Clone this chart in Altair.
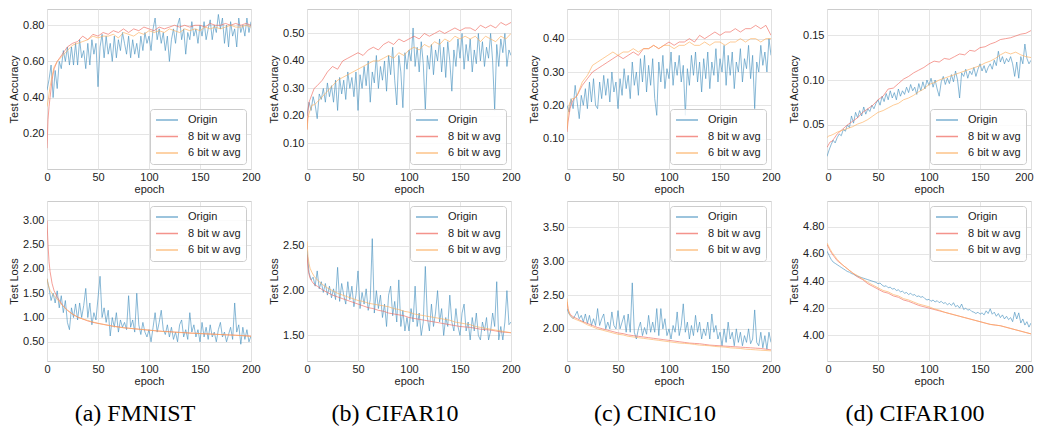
import altair as alt
import pandas as pd

SERIES = ["Origin", "8 bit w avg", "6 bit w avg"]
COLORS = ["#4a93c0", "#f06a60", "#fdae5c"]

# epochs for the noisy "Origin" curves and for the smoother averaged curves
E_ORIG = list(range(0, 201, 2))
E_AVG = [0, 1, 2, 3, 5, 7, 10] + list(range(15, 201, 5))

X_TICKS = [0, 50, 100, 150, 200]

# ---------------- (a) FMNIST accuracy ----------------
fm_acc_orig = [
    .44, .50, .58, .40, .55, .45, .60, .56, .66, .60,
    .68, .58, .68, .58, .70, .58, .72, .62, .66, .56,
    .70, .58, .72, .64, .70, .46, .68, .75, .62, .74,
    .64, .70, .60, .74, .62, .72, .66, .76, .70, .64,
    .74, .62, .72, .64, .70, .62, .74, .66, .76, .70,
    .74, .66, .78, .84, .72, .78, .70, .76, .66, .74,
    .60, .72, .78, .70, .80, .84, .72, .78, .64, .76,
    .72, .82, .74, .78, .70, .80, .74, .82, .72, .78,
    .83, .72, .80, .76, .86, .78, .84, .70, .80, .68,
    .82, .74, .78, .68, .84, .76, .80, .74, .84, .76, .82]
fm_acc_8 = [.12, .28, .35, .40, .50, .56, .60, .64, .68, .70, .71, .74, .72, .75, .74,
            .76, .75, .77, .76, .78, .76, .78, .77, .79, .78, .77, .79, .78, .79, .80,
            .79, .80, .79, .80, .80, .79, .81, .80, .80, .81, .80, .81, .80, .81, .80]
fm_acc_6 = [.35, .38, .42, .46, .52, .57, .60, .63, .66, .69, .70, .71, .72, .74, .73,
            .74, .74, .75, .73, .76, .75, .74, .76, .75, .77, .76, .77, .76, .78, .77,
            .76, .78, .77, .78, .77, .79, .78, .79, .78, .79, .80, .79, .79, .80, .79]

# ---------------- (b) CIFAR10 accuracy ----------------
c10_acc_orig = [
    .20, .25, .22, .27, .24, .19, .28, .26, .30, .25,
    .32, .27, .31, .25, .33, .22, .34, .28, .33, .26,
    .36, .30, .34, .27, .36, .22, .35, .30, .38, .31,
    .40, .25, .36, .32, .42, .30, .38, .33, .40, .29,
    .42, .35, .45, .33, .24, .42, .36, .23, .43, .37,
    .44, .40, .52, .38, .45, .36, .47, .39, .22, .42,
    .37, .46, .35, .44, .40, .48, .36, .45, .34, .47,
    .40, .29, .44, .38, .48, .41, .50, .37, .46, .40,
    .48, .36, .44, .39, .50, .40, .47, .38, .45, .41,
    .50, .40, .22, .46, .38, .48, .43, .50, .38, .44, .42]
c10_acc_8 = [.15, .22, .25, .26, .28, .30, .31, .33, .36, .38, .37, .40, .41, .42, .43,
             .42, .44, .45, .44, .46, .47, .46, .48, .47, .48, .49, .48, .50, .49, .50,
             .51, .50, .51, .52, .51, .52, .52, .51, .53, .52, .53, .52, .54, .53, .54]
c10_acc_6 = [.15, .19, .21, .22, .24, .24, .25, .27, .29, .31, .33, .34, .35, .36, .37,
             .38, .39, .40, .40, .41, .42, .41, .43, .42, .44, .45, .44, .46, .45, .47,
             .46, .48, .47, .49, .48, .49, .48, .49, .47, .49, .48, .47, .49, .48, .50]

# ---------------- (c) CINIC10 accuracy ----------------
cn_acc_orig = [
    .20, .18, .22, .19, .26, .21, .16, .23, .20, .25,
    .19, .27, .21, .28, .20, .19, .27, .22, .29, .23,
    .28, .21, .30, .24, .27, .19, .28, .23, .31, .25,
    .29, .22, .33, .26, .30, .23, .34, .27, .35, .24,
    .32, .26, .34, .22, .17, .33, .27, .35, .25, .31,
    .28, .36, .26, .33, .29, .35, .27, .32, .17, .31,
    .26, .35, .29, .36, .27, .33, .24, .34, .28, .36,
    .25, .33, .29, .37, .27, .34, .30, .38, .26, .35,
    .29, .36, .25, .33, .30, .37, .27, .34, .31, .38,
    .28, .35, .19, .33, .30, .38, .32, .36, .30, .40, .35]
cn_acc_8 = [.12, .15, .17, .19, .21, .22, .23, .26, .28, .30, .31, .32, .33, .34, .35,
            .34, .35, .36, .35, .37, .37, .38, .37, .38, .39, .38, .39, .39, .40, .39,
            .41, .40, .41, .42, .41, .42, .42, .43, .42, .43, .43, .44, .43, .44, .41]
cn_acc_6 = [.13, .17, .20, .21, .22, .22, .23, .27, .29, .32, .33, .34, .35, .36, .35,
            .36, .36, .37, .36, .37, .37, .38, .37, .38, .38, .37, .38, .38, .39, .38,
            .38, .39, .38, .39, .39, .38, .39, .39, .40, .39, .40, .40, .39, .40, .40]

# ---------------- (d) CIFAR100 accuracy ----------------
c100_acc_orig = [
    .015, .022, .028, .033, .030, .036, .040, .038, .045, .043,
    .050, .047, .060, .052, .064, .058, .066, .060, .070, .062,
    .068, .065, .072, .068, .074, .078, .072, .082, .076, .085,
    .078, .088, .080, .086, .078, .090, .082, .088, .084, .092,
    .086, .095, .088, .092, .084, .096, .088, .098, .090, .100,
    .094, .102, .092, .100, .090, .082, .098, .104, .095, .102,
    .096, .106, .098, .110, .100, .080, .108, .104, .112, .102,
    .110, .106, .114, .104, .112, .118, .110, .116, .108, .114,
    .118, .112, .122, .116, .132, .120, .126, .118, .124, .120,
    .126, .118, .104, .120, .102, .126, .118, .140, .124, .118, .122]
c100_acc_8 = [.025, .027, .029, .031, .032, .035, .040, .045, .050, .054, .058, .064, .068,
              .072, .078, .082, .090, .091, .096, .101, .104, .108, .111, .114, .118, .121,
              .120, .124, .123, .126, .129, .128, .133, .132, .136, .137, .140, .142, .145,
              .146, .147, .149, .151, .152, .155]
c100_acc_6 = [.036, .037, .038, .038, .039, .040, .042, .044, .046, .048, .051, .053, .056,
              .060, .064, .066, .069, .072, .074, .078, .080, .083, .087, .090, .095, .097,
              .100, .102, .104, .106, .108, .110, .112, .114, .116, .119, .121, .124, .128,
              .131, .129, .131, .128, .126, .125]

# ---------------- (a) FMNIST loss ----------------
fm_loss_orig = [
    1.80, 1.60, 1.35, 1.50, 1.30, 1.55, 1.20, 1.45, 1.10, 1.35,
    0.90, 0.75, 1.20, 1.00, 1.28, 0.95, 1.30, 1.00, 1.25, 1.60,
    1.00, 1.30, 0.85, 1.10, 0.95, 1.40, 1.85, 1.00, 1.20, 0.90,
    1.15, 0.62, 1.00, 0.80, 1.10, 0.70, 0.95, 0.80, 0.90, 0.75,
    1.45, 0.80, 0.95, 0.70, 1.50, 0.85, 0.65, 0.90, 0.70, 0.60,
    0.75, 0.50, 0.80, 1.10, 0.70, 0.90, 1.15, 0.75, 0.65, 0.85,
    0.60, 0.80, 0.55, 0.70, 0.50, 0.85, 0.95, 0.60, 0.75, 0.55,
    1.10, 0.70, 0.85, 0.60, 0.75, 0.50, 0.90, 0.60, 0.80, 0.55,
    0.85, 0.60, 0.70, 0.50, 0.75, 0.90, 0.60, 0.70, 0.50, 0.65,
    0.80, 0.55, 1.30, 0.70, 0.85, 0.45, 0.80, 0.55, 0.75, 0.50, 0.62]
fm_loss_8 = [3.00, 2.50, 2.15, 1.95, 1.70, 1.55, 1.42, 1.26, 1.15, 1.07, 1.01, 0.97, 0.93,
             0.90, 0.88, 0.86, 0.84, 0.82, 0.81, 0.79, 0.78, 0.77, 0.76, 0.75, 0.74, 0.73,
             0.72, 0.715, 0.71, 0.70, 0.695, 0.69, 0.68, 0.675, 0.67, 0.665, 0.66, 0.655,
             0.65, 0.645, 0.64, 0.635, 0.63, 0.625, 0.62]
fm_loss_6 = [1.80, 1.70, 1.62, 1.56, 1.50, 1.45, 1.38, 1.25, 1.15, 1.07, 1.01, 0.97, 0.94,
             0.91, 0.88, 0.86, 0.84, 0.82, 0.80, 0.79, 0.78, 0.77, 0.76, 0.75, 0.74, 0.73,
             0.72, 0.71, 0.705, 0.70, 0.69, 0.685, 0.68, 0.675, 0.67, 0.665, 0.66, 0.655,
             0.65, 0.645, 0.64, 0.635, 0.63, 0.62, 0.61]

# ---------------- (b) CIFAR10 loss ----------------
c10_loss_orig = [
    2.45, 2.20, 2.12, 2.15, 2.05, 2.22, 2.02, 2.10, 1.98, 2.08,
    1.95, 2.05, 1.92, 2.02, 1.90, 2.26, 1.88, 2.08, 1.95, 1.85,
    2.10, 1.90, 2.05, 1.82, 1.95, 2.22, 1.80, 1.98, 1.85, 2.02,
    1.78, 1.90, 2.58, 1.75, 2.00, 1.80, 1.95, 1.70, 1.85, 1.60,
    1.95, 2.05, 1.72, 1.88, 1.65, 2.12, 1.60, 1.78, 1.55, 1.70,
    1.55, 1.80, 1.65, 2.05, 1.60, 1.75, 1.50, 1.65, 2.27, 1.70,
    1.55, 1.85, 1.60, 1.75, 2.00, 1.65, 1.80, 1.50, 1.70, 1.60,
    1.95, 1.65, 1.55, 1.80, 1.60, 1.50, 1.75, 1.85, 1.55, 1.65,
    1.45, 1.70, 1.55, 1.75, 1.50, 1.45, 1.65, 1.55, 1.70, 1.45,
    1.55, 1.75, 1.60, 2.10, 1.45, 1.60, 1.45, 1.65, 2.00, 1.62, 1.65]
c10_loss_8 = [2.40, 2.25, 2.18, 2.14, 2.10, 2.07, 2.05, 2.01, 1.98, 1.95, 1.93, 1.91, 1.89,
              1.87, 1.85, 1.83, 1.81, 1.80, 1.78, 1.77, 1.75, 1.74, 1.73, 1.72, 1.70, 1.69,
              1.68, 1.67, 1.66, 1.65, 1.64, 1.63, 1.62, 1.61, 1.60, 1.595, 1.59, 1.58, 1.57,
              1.565, 1.56, 1.55, 1.54, 1.535, 1.53]
c10_loss_6 = [2.55, 2.38, 2.30, 2.25, 2.20, 2.16, 2.12, 2.07, 2.03, 2.00, 1.97, 1.95, 1.93,
              1.91, 1.89, 1.88, 1.86, 1.85, 1.84, 1.83, 1.82, 1.80, 1.79, 1.77, 1.76, 1.74,
              1.73, 1.72, 1.71, 1.70, 1.69, 1.68, 1.67, 1.65, 1.64, 1.63, 1.62, 1.60, 1.59,
              1.58, 1.57, 1.56, 1.55, 1.54, 1.53]

# ---------------- (c) CINIC10 loss ----------------
cn_loss_orig = [
    2.30, 2.22, 2.18, 2.15, 2.20, 2.26, 2.15, 2.20, 2.10, 2.22,
    2.08, 2.20, 2.05, 2.15, 2.05, 2.30, 2.05, 2.15, 2.22, 2.00,
    2.10, 2.00, 2.25, 2.05, 2.00, 2.27, 2.00, 2.10, 2.20, 1.95,
    2.22, 1.95, 2.68, 1.95, 1.85, 2.00, 2.10, 1.90, 2.02, 1.92,
    2.20, 1.95, 2.10, 1.95, 2.30, 1.90, 2.30, 2.00, 2.15, 1.90,
    2.00, 1.85, 2.05, 1.95, 2.25, 1.90, 2.05, 2.37, 1.95, 2.10,
    1.85, 2.05, 1.90, 2.20, 1.95, 2.10, 1.85, 2.00, 1.90, 2.10,
    1.85, 2.22, 1.95, 2.05, 1.85, 1.95, 1.75, 2.00, 1.80, 2.10,
    1.85, 1.95, 1.75, 2.00, 1.80, 1.95, 1.75, 1.90, 1.80, 2.00,
    1.78, 1.85, 2.28, 1.80, 1.75, 1.95, 1.72, 1.90, 1.70, 1.95, 1.80]
cn_loss_8 = [2.40, 2.30, 2.25, 2.22, 2.19, 2.17, 2.15, 2.11, 2.08, 2.05, 2.02, 2.00, 1.98,
             1.96, 1.94, 1.93, 1.91, 1.90, 1.89, 1.88, 1.87, 1.86, 1.85, 1.84, 1.83, 1.82,
             1.81, 1.80, 1.79, 1.785, 1.78, 1.77, 1.76, 1.755, 1.75, 1.745, 1.74, 1.735,
             1.73, 1.725, 1.72, 1.715, 1.71, 1.70, 1.69]
cn_loss_6 = [2.45, 2.30, 2.24, 2.20, 2.17, 2.15, 2.13, 2.10, 2.06, 2.03, 2.00, 1.98, 1.96,
             1.94, 1.92, 1.91, 1.89, 1.88, 1.87, 1.86, 1.85, 1.84, 1.83, 1.82, 1.81, 1.80,
             1.79, 1.785, 1.78, 1.77, 1.76, 1.755, 1.75, 1.74, 1.735, 1.73, 1.72, 1.715,
             1.71, 1.70, 1.695, 1.69, 1.685, 1.68, 1.675]

# ---------------- (d) CIFAR100 loss ----------------
c100_loss_orig = [
    4.62, 4.59, 4.56, 4.54, 4.53, 4.52, 4.51, 4.50, 4.49, 4.48,
    4.47, 4.465, 4.455, 4.45, 4.44, 4.435, 4.43, 4.425, 4.42, 4.415,
    4.41, 4.405, 4.40, 4.395, 4.39, 4.38, 4.385, 4.37, 4.36, 4.365,
    4.35, 4.355, 4.34, 4.345, 4.33, 4.335, 4.32, 4.325, 4.31, 4.315,
    4.30, 4.31, 4.295, 4.30, 4.285, 4.29, 4.28, 4.285, 4.27, 4.26,
    4.265, 4.25, 4.26, 4.245, 4.255, 4.24, 4.25, 4.235, 4.24, 4.225,
    4.235, 4.22, 4.24, 4.21, 4.22, 4.20, 4.23, 4.19, 4.20, 4.185,
    4.19, 4.175, 4.17, 4.16, 4.17, 4.155, 4.165, 4.15, 4.18, 4.16,
    4.195, 4.155, 4.17, 4.14, 4.16, 4.13, 4.15, 4.12, 4.14, 4.115,
    4.13, 4.10, 4.17, 4.12, 4.165, 4.09, 4.12, 4.075, 4.10, 4.06, 4.09]
c100_loss_8 = [4.67, 4.655, 4.64, 4.625, 4.60, 4.58, 4.55, 4.52, 4.49, 4.46, 4.43, 4.41,
               4.38, 4.36, 4.34, 4.32, 4.31, 4.29, 4.28, 4.26, 4.25, 4.235, 4.22, 4.21,
               4.20, 4.19, 4.18, 4.17, 4.16, 4.15, 4.14, 4.13, 4.12, 4.11, 4.10, 4.09,
               4.08, 4.075, 4.07, 4.06, 4.05, 4.04, 4.03, 4.02, 4.01]
c100_loss_6 = [4.68, 4.665, 4.65, 4.635, 4.61, 4.59, 4.56, 4.52, 4.49, 4.46, 4.44, 4.415,
               4.39, 4.37, 4.35, 4.33, 4.32, 4.30, 4.29, 4.27, 4.26, 4.245, 4.23, 4.22,
               4.21, 4.195, 4.185, 4.17, 4.16, 4.15, 4.14, 4.13, 4.12, 4.11, 4.10, 4.09,
               4.08, 4.075, 4.07, 4.06, 4.05, 4.04, 4.03, 4.02, 4.01]

CAPTIONS = ["(a) FMNIST", "(b) CIFAR10", "(c) CINIC10", "(d) CIFAR100"]

TOP = [
    (fm_acc_orig, fm_acc_8, fm_acc_6, [0.005, 0.89], [0.2, 0.4, 0.6, 0.8]),
    (c10_acc_orig, c10_acc_8, c10_acc_6, [0.007, 0.589], [0.1, 0.2, 0.3, 0.4, 0.5]),
    (cn_acc_orig, cn_acc_8, cn_acc_6, [0.009, 0.489], [0.1, 0.2, 0.3, 0.4]),
    (c100_acc_orig, c100_acc_8, c100_acc_6, [0.001, 0.179], [0.05, 0.10, 0.15]),
]
BOTTOM = [
    (fm_loss_orig, fm_loss_8, fm_loss_6, [0.105, 3.40], [0.5, 1.0, 1.5, 2.0, 2.5, 3.0]),
    (c10_loss_orig, c10_loss_8, c10_loss_6, [1.215, 3.0], [1.5, 2.0, 2.5]),
    (cn_loss_orig, cn_loss_8, cn_loss_6, [1.525, 3.89], [2.0, 2.5, 3.0, 3.5]),
    (c100_loss_orig, c100_loss_8, c100_loss_6, [3.81, 4.99], [4.0, 4.2, 4.4, 4.6, 4.8]),
]

FONT = "Liberation Sans"


def panel(orig, b8, b6, dom, ticks, ytitle, legend_orient, last_col, caption=None):
    rows = []
    for e, v in zip(E_ORIG, orig):
        rows.append({"epoch": e, "value": v, "series": SERIES[0]})
    for e, v in zip(E_AVG, b8):
        rows.append({"epoch": e, "value": v, "series": SERIES[1]})
    for e, v in zip(E_AVG, b6):
        rows.append({"epoch": e, "value": v, "series": SERIES[2]})
    df = pd.DataFrame(rows)
    if last_col:
        xaxis = alt.Axis(values=X_TICKS, format="d", title="epoch",
                         labelFlush=True, labelFlushOffset=2, labelOverlap=False,
                         labelPadding=2, titlePadding=1)
    else:
        xaxis = alt.Axis(values=X_TICKS, format="d", title="epoch",
                         labelFlush=False, labelOverlap=False,
                         labelPadding=2, titlePadding=1)
    ch = alt.Chart(df).mark_line(strokeWidth=0.9, opacity=0.72, clip=True).encode(
        x=alt.X("epoch:Q", scale=alt.Scale(domain=[0, 200], nice=False), axis=xaxis),
        y=alt.Y("value:Q", scale=alt.Scale(domain=dom, nice=False, zero=False),
                axis=alt.Axis(values=ticks, format=".2f", title=ytitle,
                              labelFlush=False, labelOverlap=False,
                              labelPadding=3, titlePadding=3)),
        color=alt.Color("series:N",
                        scale=alt.Scale(domain=SERIES, range=COLORS),
                        legend=alt.Legend(title=None, orient=legend_orient, offset=5,
                                          fillColor="rgba(255,255,255,0.85)",
                                          strokeColor="#cccccc", cornerRadius=3,
                                          padding=5, symbolType="stroke",
                                          symbolSize=484, symbolStrokeWidth=1.5,
                                          symbolOpacity=0.72, clipHeight=12,
                                          rowPadding=4.5, labelFontSize=11,
                                          labelFont=FONT, labelOffset=9,
                                          labelColor="#222222")),
    ).properties(width=204, height=160)
    if caption:
        ch = ch.properties(title=alt.TitleParams(
            text=caption, orient="bottom", anchor="middle", dx=-14,
            font="Liberation Serif", fontSize=24, fontWeight="normal",
            color="black", offset=16))
    return ch


charts = []
for i, (o, b8, b6, dom, ticks) in enumerate(TOP):
    charts.append(panel(o, b8, b6, dom, ticks, "Test Accuracy", "bottom-right", i == 3))
for i, ((o, b8, b6, dom, ticks), cap) in enumerate(zip(BOTTOM, CAPTIONS)):
    charts.append(panel(o, b8, b6, dom, ticks, "Test Loss", "top-right", i == 3, cap))

chart = alt.concat(*charts, columns=4, spacing={"row": 32, "column": 56},
                   bounds="flush").resolve_scale(color="independent").properties(
    padding={"left": 0, "top": 0, "right": 0, "bottom": 0}
).configure_axis(
    labelFont=FONT, labelFontSize=11, labelColor="#222222",
    titleFont=FONT, titleFontSize=11, titleFontWeight="normal", titleColor="#222222",
    gridColor="#e2e2e2", gridWidth=0.9, domain=False, ticks=False
).configure_view(stroke="#cccccc", strokeWidth=1)

chart.save("out.html", embed_options={"renderer": "svg", "actions": False})
